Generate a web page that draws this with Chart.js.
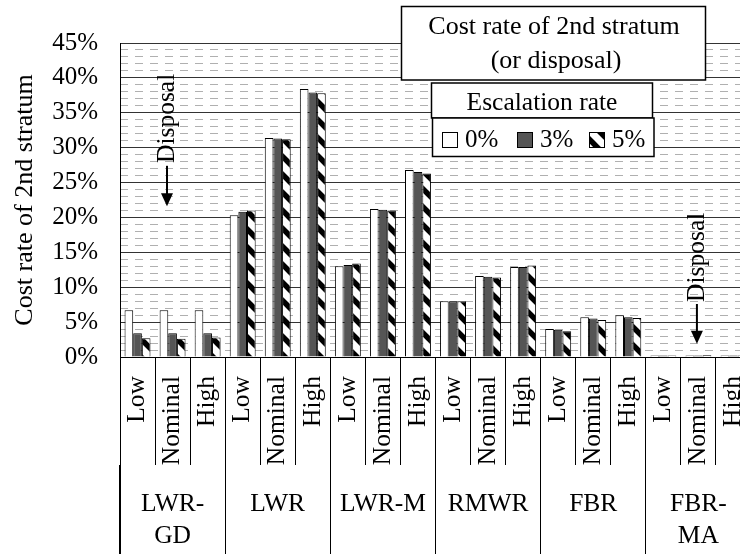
<!DOCTYPE html>
<html>
<head>
<meta charset="utf-8">
<script src="https://cdn.jsdelivr.net/npm/chart.js@4.4.0/dist/chart.umd.min.js"></script>
<style>
  html, body { margin: 0; padding: 0; background: #fff; }
  #wrap { width: 740px; height: 554px; overflow: hidden; position: relative; background: #fff; }
  canvas { display: block; }
</style>
</head>
<body>
<div id="wrap"><canvas id="chart" width="760" height="554"></canvas></div>
<script>
// ---- data ----
const reactorTypes = [['LWR-', 'GD'], 'LWR', 'LWR-M', 'RMWR', 'FBR', ['FBR-', 'MA']];
const scenarios = ['Low', 'Nominal', 'High'];
const caseLabels = reactorTypes.flatMap(() => scenarios);
const escalationRates = ['0%', '3%', '5%'];

// cost rate of 2nd stratum (%), one value per reactor type / scenario
const rate0 = [6.7, 6.7, 6.7,   20.3, 31.4, 38.4,   13.0, 21.2, 26.8,   8.0, 11.6, 12.9,   4.0, 5.7, 6.0,   0.2, 0.2, 0.2];
const rate3 = [3.4, 3.4, 3.4,   20.8, 31.3, 37.9,   13.2, 21.1, 26.5,   8.0, 11.5, 12.9,   3.9, 5.5, 5.7,   0.2, 0.2, 0.2];
const rate5 = [2.7, 2.6, 2.8,   21.0, 31.2, 37.8,   13.4, 21.0, 26.3,   8.0, 11.4, 13.1,   3.7, 5.3, 5.6,   0.2, 0.25, 0.2];

const yTickMax = 45;
const yTickStep = 5;

// "Disposal" call-outs: category index, value where the word starts, arrow span
const disposalNotes = [
  { index: 1,  dx: -5.6, textFrom: 27.8, arrowFrom: 27.4, arrowTo: 21.6 },
  { index: 16, dx: -1.5, textFrom: 7.9,  arrowFrom: 7.6,  arrowTo: 1.9 }
];

// ---- styling helpers ----
const SERIF = "'Liberation Serif', 'Times New Roman', serif";
Chart.defaults.font.family = SERIF;
Chart.defaults.color = '#000';

function diagonalStripes() {
  const s = 18;
  const c = document.createElement('canvas');
  c.width = s; c.height = s;
  const g = c.getContext('2d');
  g.fillStyle = '#fff';
  g.fillRect(0, 0, s, s);
  g.strokeStyle = '#000';
  g.lineWidth = 5.5;
  g.beginPath();
  for (let k = -1; k <= 1; k++) {
    g.moveTo(k * s - 2, -2);
    g.lineTo(k * s + s + 2, s + 2);
  }
  g.stroke();
  return g.createPattern(c, 'repeat');
}

const ctx = document.getElementById('chart').getContext('2d');
const stripeFill = diagonalStripes();
const fills = ['#ffffff', '#555555', stripeFill];
const series = [rate0, rate3, rate5];

// boxed titles, legend, left frame of the category table and the "Disposal" call-outs
const panelPlugin = {
  id: 'panels',
  afterDraw(chart) {
    const c = chart.ctx;
    const xs = chart.scales.x;
    const ys = chart.scales.y;
    const area = chart.chartArea;
    c.save();

    // left edge of the category table below the axis
    const lx = Math.round(area.left) + 0.5;
    c.strokeStyle = '#000';
    c.lineWidth = 1;
    c.beginPath();
    c.moveTo(lx, area.bottom);
    c.lineTo(lx, chart.height);
    c.stroke();

    // Disposal notes
    disposalNotes.forEach(n => {
      const px = xs.getPixelForValue(n.index) + n.dx;
      c.save();
      c.translate(px, ys.getPixelForValue(n.textFrom));
      c.rotate(-Math.PI / 2);
      c.fillStyle = '#000';
      c.font = '25.5px ' + SERIF;
      c.textAlign = 'left';
      c.textBaseline = 'middle';
      c.fillText('Disposal', 0, 0);
      c.restore();
      const y0 = ys.getPixelForValue(n.arrowFrom);
      const tip = ys.getPixelForValue(n.arrowTo);
      c.strokeStyle = '#000';
      c.lineWidth = 2;
      c.beginPath();
      c.moveTo(px, y0);
      c.lineTo(px, tip - 10);
      c.stroke();
      c.fillStyle = '#000';
      c.beginPath();
      c.moveTo(px - 6, tip - 13);
      c.lineTo(px + 6, tip - 13);
      c.lineTo(px, tip);
      c.closePath();
      c.fill();
    });

    const frame = (x, y, w, h) => {
      c.fillStyle = '#fff';
      c.fillRect(x, y, w, h);
      c.strokeStyle = '#000';
      c.lineWidth = 1.5;
      c.strokeRect(x, y, w, h);
    };

    // main title box
    frame(401.5, 6.5, 304, 73.5);
    c.fillStyle = '#000';
    c.font = '26px ' + SERIF;
    c.textAlign = 'center';
    c.textBaseline = 'alphabetic';
    c.fillText('Cost rate of 2nd stratum', 554, 34);
    c.fillText('(or disposal)', 556, 68);

    // legend title box
    frame(431.5, 83, 221, 35);
    c.fillStyle = '#000';
    c.font = '25.5px ' + SERIF;
    c.fillText('Escalation rate', 542, 110);

    // legend items
    frame(432.5, 118, 221.5, 38.5);
    const itemX = [442, 517, 589];
    chart.data.datasets.forEach((ds, i) => {
      c.fillStyle = ds.backgroundColor;
      c.fillRect(itemX[i], 132, 15, 15);
      c.strokeStyle = '#000';
      c.lineWidth = 1;
      c.strokeRect(itemX[i] + 0.5, 132.5, 15, 15);
      c.fillStyle = '#000';
      c.font = '25px ' + SERIF;
      c.textAlign = 'left';
      c.fillText(ds.label, itemX[i] + 23, 147);
    });
    c.restore();
  }
};

new Chart(ctx, {
  type: 'bar',
  data: {
    labels: caseLabels,
    datasets: escalationRates.map((r, i) => ({
      label: r,
      data: series[i],
      backgroundColor: fills[i],
      borderColor: '#000',
      borderWidth: 1,
      xAxisID: 'x',
      yAxisID: 'y'
    }))
  },
  options: {
    responsive: false,
    animation: false,
    categoryPercentage: 0.74,
    barPercentage: 1.0,
    layout: { padding: { top: 43, right: 9, bottom: 0, left: 0 } },
    plugins: {
      legend: { display: false },
      tooltip: { enabled: false }
    },
    scales: {
      x: {
        type: 'category',
        position: 'bottom',
        offset: true,
        grid: { offset: true, drawOnChartArea: false, drawTicks: true, tickLength: 108, tickColor: '#000', tickWidth: 1 },
        border: { display: true, color: '#000', width: 1 },
        ticks: { autoSkip: false, minRotation: 90, maxRotation: 90, padding: -89, color: '#000', font: { size: 25.5 } },
        afterFit(s) { s.height = 108; }
      },
      x2: {
        type: 'category',
        position: 'bottom',
        labels: reactorTypes,
        offset: true,
        grid: { offset: true, drawOnChartArea: false, drawTicks: true, tickLength: 89, tickColor: '#000', tickWidth: 1 },
        border: { display: false },
        ticks: { autoSkip: false, minRotation: 0, maxRotation: 0, padding: -65.5, color: '#000', font: { size: 25.5, lineHeight: 1.25 } },
        afterFit(s) { s.height = 89; }
      },
      y: {
        position: 'left',
        min: 0,
        max: yTickMax,
        ticks: { stepSize: yTickStep, autoSkip: false, padding: 22, color: '#000', font: { size: 25 }, callback: v => v + '%' },
        grid: { color: '#333', drawTicks: false },
        border: { display: true, color: '#000', width: 1 },
        title: { display: true, text: 'Cost rate of 2nd stratum', color: '#000', font: { size: 26 }, padding: { top: 10, bottom: 0 } },
        afterFit(s) { s.width = 120; }
      },
      y2: {
        position: 'right',
        min: 0,
        max: yTickMax,
        ticks: { display: false, stepSize: 1 },
        grid: {
          drawTicks: false,
          color: c => (c.tick && Math.round(c.tick.value) % yTickStep === 0) ? 'rgba(0,0,0,0)' : '#b0b0b0'
        },
        border: { display: false, dash: [8, 7] },
        afterFit(s) { s.width = 0; }
      }
    }
  },
  plugins: [panelPlugin]
});
</script>
</body>
</html>
